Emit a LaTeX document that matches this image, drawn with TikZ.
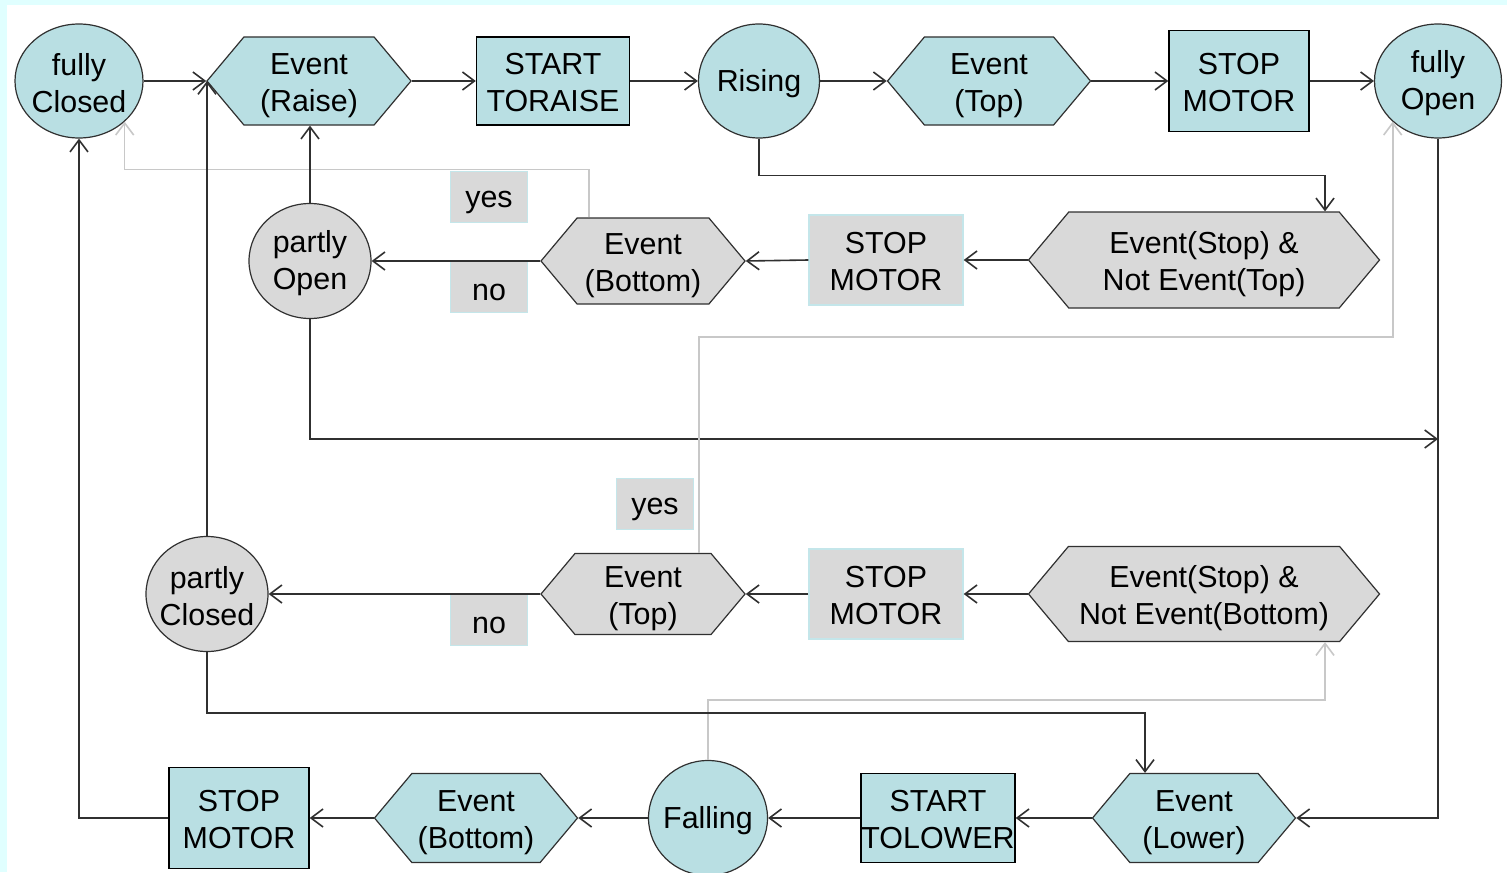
\documentclass[tikz,border=0pt]{standalone}
\usepackage{fontspec}
\setmainfont{Liberation Sans}
\usetikzlibrary{shapes.geometric,shapes.symbols,arrows.meta,calc}

\definecolor{tealfill}{HTML}{B9DFE3}
\definecolor{greyfill}{HTML}{D9D9D9}
\definecolor{labeledge}{HTML}{C4E6EA}
\definecolor{pagecyan}{HTML}{E0FFFF}
\definecolor{wire}{HTML}{303030}
\definecolor{softwire}{HTML}{C8C8C8}

\tikzset{
  every node/.style={font=\fontsize{15.2}{18.5}\selectfont, align=center, inner sep=0pt,
    text height=14pt},
  state/.style={ellipse, draw=wire, line width=0.6pt, inner xsep=-3pt},
  twoline/.style={text height=31.5pt},
  event/.style={signal, signal to=east and west, signal pointer angle=100, draw=wire, line width=0.6pt,
    text height=34pt},
  action/.style={rectangle, draw=black, line width=0.7pt, text height=31pt},
  branch/.style={rectangle, fill=greyfill, draw=labeledge, line width=0.6pt,
    minimum width=38.5pt, minimum height=25.5pt},
  flow/.style={draw=wire, line width=0.8pt, -{Straight Barb[length=6pt,width=9pt]}},
  softflow/.style={flow, draw=softwire},
}

\begin{document}
\begin{tikzpicture}[x=0.5pt, y=-0.5pt]
  \fill[pagecyan] (0,0) rectangle (1507,872);
  \fill[white] (7,5) rectangle (1507,872);
  \useasboundingbox (0,0) rectangle (1507,872);

  % opening
  \node[state, twoline, fill=tealfill, minimum width=64pt, minimum height=57pt] (fullyClosed) at (79,81) {fully\\Closed};
  \node[event, fill=tealfill, minimum width=102pt, minimum height=44pt] (evRaise) at (309,81) {Event\\(Raise)};
  \node[action, fill=tealfill, minimum width=76.5pt, minimum height=44pt] (startRaise) at (553,81) {START\\TORAISE};
  \node[state, fill=tealfill, minimum width=60.5pt, minimum height=57pt] (rising) at (759,81) {Rising};
  \node[event, fill=tealfill, minimum width=101.5pt, minimum height=44pt] (evTop) at (989,81) {Event\\(Top)};
  \node[action, fill=tealfill, minimum width=70pt, minimum height=50.5pt] (stopUp) at (1239,81) {STOP\\MOTOR};
  \node[state, twoline, fill=tealfill, minimum width=63.5pt, minimum height=57pt] (fullyOpen) at (1438,81) {fully\\Open};

  % stopped while rising
  \node[state, twoline, fill=greyfill, minimum width=61pt, minimum height=57.5pt] (partlyOpen) at (310,261) {partly\\Open};
  \node[event, fill=greyfill, minimum width=102pt, minimum height=43pt] (evBottom) at (643,261) {Event\\(Bottom)};
  \node[action, fill=greyfill, draw=labeledge, minimum width=77pt, minimum height=45pt] (stopHalt) at (886,260) {STOP\\MOTOR};
  \node[event, fill=greyfill, minimum width=175.5pt, minimum height=48pt] (stopNotTop) at (1204,260) {Event(Stop) \&\\Not Event(Top)};
  \node[branch] (yesUp) at (489,197) {yes};
  \node[branch] (noUp) at (489,287) {no};

  % stopped while falling
  \node[state, twoline, fill=greyfill, minimum width=61pt, minimum height=57.5pt] (partlyClosed) at (207,594) {partly\\Closed};
  \node[event, fill=greyfill, minimum width=102pt, minimum height=40.5pt] (evTopDown) at (643,594) {Event\\(Top)};
  \node[action, fill=greyfill, draw=labeledge, minimum width=77pt, minimum height=45pt] (stopHold) at (886,594) {STOP\\MOTOR};
  \node[event, fill=greyfill, minimum width=175.5pt, minimum height=47.5pt] (stopNotBottom) at (1204,594) {Event(Stop) \&\\Not Event(Bottom)};
  \node[branch] (yesDown) at (655,504) {yes};
  \node[branch] (noDown) at (489,620) {no};

  % closing
  \node[action, fill=tealfill, minimum width=70pt, minimum height=50.5pt] (stopDown) at (239,818) {STOP\\MOTOR};
  \node[event, fill=tealfill, minimum width=101.5pt, minimum height=44.5pt] (evBottomDown) at (476,818) {Event\\(Bottom)};
  \node[state, fill=tealfill, minimum width=59.5pt, minimum height=57.5pt] (falling) at (708,818) {Falling};
  \node[action, fill=tealfill, minimum width=77pt, minimum height=44.5pt] (startLower) at (938,818) {START\\TOLOWER};
  \node[event, fill=tealfill, minimum width=101.5pt, minimum height=44.5pt] (evLower) at (1194,818) {Event\\(Lower)};

  \coordinate (openJoin) at (1438,439);

  \draw[flow] (fullyClosed.east) -- (evRaise.west);
  \draw[flow] (evRaise.east) -- (startRaise.west);
  \draw[flow] (startRaise.east) -- (rising.west);
  \draw[flow] (rising.east) -- (evTop.west);
  \draw[flow] (evTop.east) -- (stopUp.west);
  \draw[flow] (stopUp.east) -- (fullyOpen.west);
  \draw[flow] (rising.south) -- ++(0,37) -| ($(stopNotTop.north)+(121,0)$);

  \draw[flow] (stopNotTop.west) -- (stopHalt.east);
  \draw[flow] (stopHalt.west) -- (evBottom.east);
  \draw[flow] (evBottom.west) -- (partlyOpen.east);
  \draw[softflow] ($(evBottom.north)+(-54,0)$) -- ++(0,-48) -| (fullyClosed.south east);
  \draw[flow] (partlyOpen.north) -- (partlyOpen.north |- evRaise.south);
  \draw[flow] (partlyOpen.south) |- (openJoin);

  \draw[flow] (fullyOpen.south) |- (evLower.east);
  \draw[flow] (evLower.west) -- (startLower.east);
  \draw[flow] (startLower.west) -- (falling.east);
  \draw[flow] (falling.west) -- (evBottomDown.east);
  \draw[flow] (evBottomDown.west) -- (stopDown.east);
  \draw[flow] (stopDown.west) -| (fullyClosed.south);
  \draw[softflow] (falling.north) -- ++(0,-60) -| ($(stopNotBottom.south)+(121,0)$);

  \draw[flow] (stopNotBottom.west) -- (stopHold.east);
  \draw[flow] (stopHold.west) -- (evTopDown.east);
  \draw[flow] (evTopDown.west) -- (partlyClosed.east);
  \draw[softflow] ($(evTopDown.north)+(56,0)$) -- ++(0,-216) -| (fullyOpen.south west);
  \draw[flow] (partlyClosed.north) -- (partlyClosed.north |- evRaise.west);
  \draw[flow] (partlyClosed.south) -- ++(0,61) -| ($(evLower.north)+(-49,0)$);
\end{tikzpicture}
\end{document}
